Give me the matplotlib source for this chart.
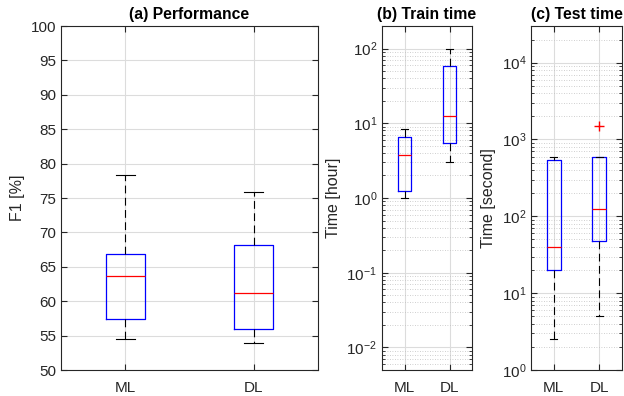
import numpy as np
import matplotlib.pyplot as plt
from matplotlib.ticker import LogLocator, NullFormatter, MultipleLocator

plt.rcParams['font.family'] = ['Liberation Sans', 'DejaVu Sans']

labels = ['ML', 'DL']

# summary stats: whislo, q1, med, q3, whishi
f1_ml = [54.5, 57.4, 63.7, 66.9, 78.4]
f1_dl = [53.9, 56.0, 61.2, 68.2, 75.9]

train_ml = [1.0, 1.24, 3.8, 6.6, 8.5]
train_dl = [3.0, 5.5, 12.4, 58.8, 100.0]

test_ml = [2.5, 20.0, 40.0, 548.0, 593.0]
test_dl = [5.1, 47.7, 126.0, 600.0, 600.0]
test_dl_out = [1500.0]

axcol = '#262626'


def stats(v, lab, fl=()):
    return dict(whislo=v[0], q1=v[1], med=v[2], q3=v[3], whishi=v[4],
                fliers=list(fl), label=lab)


def draw(ax, st):
    ax.bxp(st, positions=[1, 2], widths=0.3, showfliers=True,
           boxprops=dict(color='blue', linewidth=0.9),
           medianprops=dict(color='red', linewidth=0.9),
           whiskerprops=dict(color='black', linewidth=0.8, linestyle=(0, (7, 4))),
           capprops=dict(color='black', linewidth=0.8),
           flierprops=dict(marker='+', markeredgecolor='red', markersize=7,
                           linestyle='none'))
    ax.set_xlim(0.5, 2.5)
    ax.set_xticks([1, 2])
    ax.set_xticklabels(labels)
    ax.tick_params(which='both', direction='in', top=True, right=True,
                   color=axcol, labelcolor=axcol, labelsize=11)
    ax.tick_params(which='major', length=4)
    ax.tick_params(which='minor', length=2)
    ax.tick_params(axis='x', pad=8)
    for s in ax.spines.values():
        s.set_color(axcol)
        s.set_linewidth(0.8)
    ax.grid(True, which='major', color='#dcdcdc', linewidth=0.8)
    ax.set_axisbelow(True)


fig = plt.figure(figsize=(6.24, 3.96), dpi=100)

ax1 = fig.add_axes([61 / 624, 26 / 396, 257 / 624, 344 / 396])
draw(ax1, [stats(f1_ml, 'ML'), stats(f1_dl, 'DL')])
ax1.set_ylim(50, 100)
ax1.yaxis.set_major_locator(MultipleLocator(5))
ax1.set_ylabel('F1 [%]', color=axcol, fontsize=11.5)
ax1.set_title('(a) Performance', fontweight='bold', fontsize=11.3, pad=5)

ax2 = fig.add_axes([382 / 624, 26 / 396, 90 / 624, 344 / 396])
ax2.set_yscale('log')
draw(ax2, [stats(train_ml, 'ML'), stats(train_dl, 'DL')])
ax2.set_ylim(0.005, 200)
ax2.set_ylabel('Time [hour]', color=axcol, fontsize=11.5)
ax2.set_title('(b) Train time', fontweight='bold', fontsize=11.3, pad=5)

ax3 = fig.add_axes([531 / 624, 26 / 396, 91 / 624, 344 / 396])
ax3.set_yscale('log')
draw(ax3, [stats(test_ml, 'ML'), stats(test_dl, 'DL', test_dl_out)])
ax3.set_ylim(1, 3e4)
ax3.set_ylabel('Time [second]', color=axcol, fontsize=11.5)
ax3.set_title('(c) Test time', fontweight='bold', fontsize=11.3, pad=5)

for ax in (ax2, ax3):
    ax.yaxis.set_major_locator(LogLocator(base=10, numticks=10))
    ax.yaxis.set_minor_locator(LogLocator(base=10, subs=np.arange(2, 10), numticks=10))
    ax.yaxis.set_minor_formatter(NullFormatter())
    ax.grid(True, which='minor', axis='y', color='#c0c0c0', linewidth=0.6,
            linestyle=(0, (1, 2)))

fig.savefig('out.png', dpi=100)
